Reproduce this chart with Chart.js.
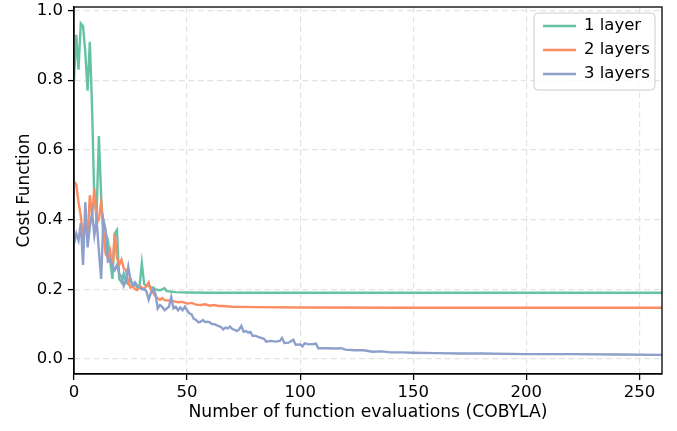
<!DOCTYPE html>
<html>
<head>
<meta charset="utf-8">
<script src="https://cdn.jsdelivr.net/npm/chart.js@4/dist/chart.umd.min.js"></script>
<style>
  html, body { margin: 0; padding: 0; background: #ffffff; }
  #wrap { width: 677px; height: 431px; }
</style>
</head>
<body>
<div id="wrap"><canvas id="costChart"></canvas></div>
<script>
// Data
const seriesLabels = ['1 layer', '2 layers', '3 layers'];

const layer1X = [0, 1, 2, 3, 4, 5, 6, 7, 8, 9, 10, 11, 12, 13, 14, 15, 16, 17, 18, 19, 20, 21, 22, 23, 24, 25, 26, 27, 28, 29, 30, 31, 32, 33, 34, 35, 36, 37, 38, 39, 40, 41, 42, 43, 45, 50, 60, 80, 100, 150, 200, 260];
const layer1Y = [0.80, 0.93, 0.83, 0.963, 0.955, 0.88, 0.77, 0.91, 0.72, 0.45, 0.42, 0.64, 0.47, 0.35, 0.36, 0.34, 0.28, 0.23, 0.36, 0.37, 0.23, 0.22, 0.245, 0.22, 0.215, 0.23, 0.21, 0.215, 0.205, 0.21, 0.275, 0.215, 0.21, 0.21, 0.205, 0.205, 0.2, 0.198, 0.197, 0.2, 0.203, 0.195, 0.194, 0.193, 0.192, 0.191, 0.19, 0.19, 0.19, 0.19, 0.19, 0.19];

const layer2X = [0, 1, 2, 3, 4, 5, 6, 7, 8, 9, 10, 11, 12, 13, 14, 15, 16, 17, 18, 19, 20, 21, 22, 23, 24, 25, 26, 27, 28, 29, 30, 31, 32, 33, 34, 35, 36, 37, 38, 39, 40, 42, 44, 46, 48, 50, 52, 54, 56, 58, 60, 62, 64, 66, 70, 80, 100, 150, 200, 260];
const layer2Y = [0.51, 0.50, 0.45, 0.41, 0.35, 0.39, 0.345, 0.47, 0.41, 0.49, 0.39, 0.40, 0.45, 0.37, 0.30, 0.29, 0.31, 0.26, 0.36, 0.29, 0.27, 0.285, 0.26, 0.255, 0.22, 0.205, 0.21, 0.2, 0.198, 0.21, 0.205, 0.2, 0.21, 0.22, 0.198, 0.19, 0.18, 0.174, 0.17, 0.175, 0.169, 0.168, 0.166, 0.163, 0.164, 0.159, 0.161, 0.156, 0.155, 0.157, 0.153, 0.155, 0.152, 0.152, 0.15, 0.149, 0.148, 0.147, 0.147, 0.147];

const layer3X = [0, 1, 2, 3, 4, 5, 6, 7, 8, 9, 10, 11, 12, 13, 14, 15, 16, 17, 18, 19, 20, 21, 22, 23, 24, 25, 26, 27, 28, 29, 30, 31, 32, 33, 34, 35, 36, 37, 38, 39, 40, 41, 42, 43, 44, 45, 46, 47, 48, 49, 50, 51, 52, 53, 54, 55, 56, 57, 58, 59, 60, 61, 62, 63, 64, 65, 66, 67, 68, 69, 70, 71, 72, 73, 74, 75, 76, 77, 78, 79, 80, 82, 84, 85, 87, 89, 91, 92, 93, 95, 97, 98, 100, 101, 102, 104, 106, 107, 108, 112, 116, 118, 120, 124, 128, 132, 136, 140, 145, 150, 160, 170, 180, 200, 220, 240, 260];
const layer3Y = [0.33, 0.36, 0.34, 0.39, 0.27, 0.45, 0.32, 0.38, 0.42, 0.355, 0.40, 0.31, 0.23, 0.40, 0.37, 0.28, 0.285, 0.265, 0.255, 0.27, 0.245, 0.235, 0.21, 0.225, 0.265, 0.225, 0.212, 0.22, 0.21, 0.205, 0.2, 0.2, 0.195, 0.17, 0.19, 0.2, 0.188, 0.145, 0.155, 0.15, 0.14, 0.145, 0.15, 0.178, 0.145, 0.15, 0.14, 0.148, 0.14, 0.15, 0.14, 0.131, 0.128, 0.115, 0.112, 0.105, 0.107, 0.112, 0.106, 0.107, 0.105, 0.1, 0.1, 0.097, 0.094, 0.092, 0.085, 0.09, 0.088, 0.093, 0.086, 0.084, 0.08, 0.085, 0.095, 0.078, 0.08, 0.076, 0.078, 0.066, 0.067, 0.062, 0.058, 0.05, 0.052, 0.05, 0.052, 0.06, 0.046, 0.047, 0.055, 0.041, 0.042, 0.036, 0.045, 0.042, 0.043, 0.044, 0.031, 0.031, 0.03, 0.031, 0.027, 0.025, 0.025, 0.021, 0.022, 0.019, 0.019, 0.018, 0.017, 0.016, 0.016, 0.014, 0.014, 0.013, 0.012];

const xTicks = [0, 50, 100, 150, 200, 250];
const yTicks = [0.0, 0.2, 0.4, 0.6, 0.8, 1.0];

// Set2 palette
const colors = {
    green:  '#66c2a5',
    orange: '#fc8d62',
    blue:   '#8da0cb',
    grid:   '#e3e3e3'
};

const FONT = 'DejaVu Sans';
const FSIZE = 16.5;

function toPoints(xs, ys) {
    return xs.map((x, i) => ({ x: x, y: ys[i] }));
}

// keep the plot box where the reference has it (no extra label padding)
function noPad(s) {
    s.paddingTop = 0;
    s.paddingBottom = 0;
    s.paddingLeft = 0;
    s.paddingRight = 0;
}

// ── axes frame + matplotlib-style legend ────────────────────────────────────
const framePlugin = {
    id: 'frame',
    afterDraw(chart) {
        const { ctx, chartArea: a } = chart;
        ctx.save();
        ctx.strokeStyle = '#000000';
        ctx.lineWidth = 1.3;
        ctx.strokeRect(a.left, a.top, a.width, a.height);

        // legend box, upper right
        const w = 121, h = 77;
        const bx = a.right - 7 - w, by = a.top + 6;
        const r = 4;
        ctx.beginPath();
        ctx.moveTo(bx + r, by);
        ctx.arcTo(bx + w, by, bx + w, by + h, r);
        ctx.arcTo(bx + w, by + h, bx, by + h, r);
        ctx.arcTo(bx, by + h, bx, by, r);
        ctx.arcTo(bx, by, bx + w, by, r);
        ctx.closePath();
        ctx.fillStyle = 'rgba(255,255,255,0.8)';
        ctx.fill();
        ctx.strokeStyle = '#cccccc';
        ctx.lineWidth = 1;
        ctx.stroke();

        ctx.font = FSIZE + 'px "' + FONT + '"';
        ctx.textBaseline = 'middle';
        ctx.textAlign = 'left';
        chart.data.datasets.forEach((ds, i) => {
            const y = by + 13 + i * 24;
            ctx.strokeStyle = ds.borderColor;
            ctx.lineWidth = 2.3;
            ctx.beginPath();
            ctx.moveTo(bx + 9, y);
            ctx.lineTo(bx + 42, y);
            ctx.stroke();
            ctx.fillStyle = '#000000';
            ctx.fillText(ds.label, bx + 50, y);
        });
        ctx.restore();
    }
};

const ctxCost = document.getElementById('costChart');
new Chart(ctxCost, {
    type: 'line',
    data: {
        datasets: [
            { label: seriesLabels[0], data: toPoints(layer1X, layer1Y), borderColor: colors.green,  order: 3 },
            { label: seriesLabels[1], data: toPoints(layer2X, layer2Y), borderColor: colors.orange, order: 2 },
            { label: seriesLabels[2], data: toPoints(layer3X, layer3Y), borderColor: colors.blue,   order: 1 }
        ]
    },
    options: {
        responsive: true,
        maintainAspectRatio: false,
        animation: false,
        devicePixelRatio: 1,
        layout: { padding: { top: 7, right: 15, left: 0, bottom: 0 } },
        elements: {
            line: { borderWidth: 2.4, tension: 0, fill: false },
            point: { radius: 0, hoverRadius: 0 }
        },
        plugins: {
            legend: { display: false },
            tooltip: { enabled: false }
        },
        scales: {
            x: {
                type: 'linear',
                min: 0,
                max: 260,
                afterBuildTicks: s => { s.ticks = xTicks.map(v => ({ value: v })); },
                afterFit: s => { s.height = 57; noPad(s); },
                grid: { color: colors.grid, lineWidth: 1.2, tickLength: 6, tickColor: '#000000', tickWidth: 1.3 },
                border: { display: true, color: '#000000', width: 1.3, dash: [6, 3.5] },
                ticks: {
                    color: '#000000', padding: 3, maxRotation: 0,
                    font: { family: FONT, size: FSIZE },
                    callback: v => String(v)
                },
                title: {
                    display: true, text: 'Number of function evaluations (COBYLA)', color: '#000000',
                    font: { family: FONT, size: 17.2 }, padding: { top: 0, bottom: 8 }
                }
            },
            y: {
                min: -0.043,
                max: 1.01,
                afterBuildTicks: s => { s.ticks = yTicks.map(v => ({ value: v })); },
                afterFit: s => { s.width = 74; noPad(s); },
                grid: { color: colors.grid, lineWidth: 1.2, tickLength: 6, tickColor: '#000000', tickWidth: 1.3 },
                border: { display: true, color: '#000000', width: 1.3, dash: [6, 3.5] },
                ticks: {
                    color: '#000000', padding: 5,
                    font: { family: FONT, size: FSIZE },
                    callback: v => v.toFixed(1)
                },
                title: {
                    display: true, text: 'Cost Function', color: '#000000',
                    font: { family: FONT, size: 16.8 }, padding: { top: 15, bottom: 0 }
                }
            }
        }
    },
    plugins: [framePlugin]
});
</script>
</body>
</html>
